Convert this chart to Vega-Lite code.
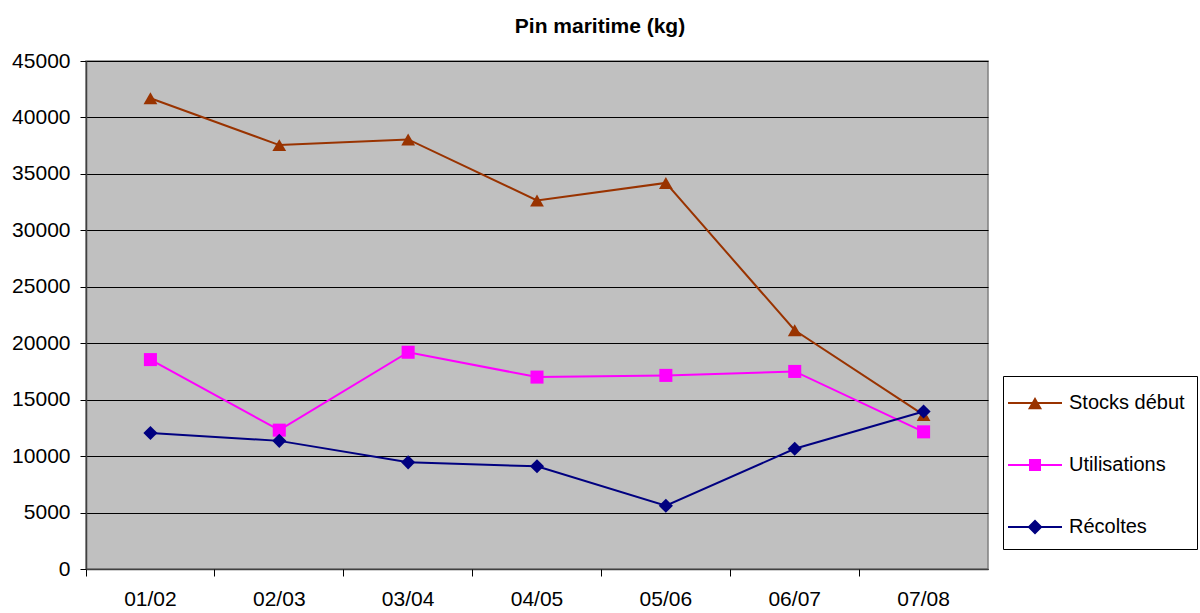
{
  "$schema": "https://vega.github.io/schema/vega-lite/v6.json",
  "autosize": "none",
  "padding": {"left": 86, "top": 61, "right": 212, "bottom": 44},
  "width": 902,
  "height": 508,
  "background": "white",
  "title": {"text": "Pin maritime  (kg)", "font": "Liberation Sans", "fontSize": 21, "fontWeight": "bold", "color": "black", "anchor": "middle", "dx": 63, "offset": 13},
  "config": {
    "view": {"fill": "#C0C0C0", "stroke": "#808080", "strokeWidth": 1.5},
    "axis": {"labelFont": "Liberation Sans", "labelFontSize": 21, "labelColor": "black", "tickColor": "black", "domainColor": "#404040", "domainWidth": 1.5, "titleFontSize": 0}
  },
  "data": {"values": [
    {"annee": "01/02", "serie": "Stocks début", "kg": 41700},
    {"annee": "02/03", "serie": "Stocks début", "kg": 37550},
    {"annee": "03/04", "serie": "Stocks début", "kg": 38050},
    {"annee": "04/05", "serie": "Stocks début", "kg": 32650},
    {"annee": "05/06", "serie": "Stocks début", "kg": 34200},
    {"annee": "06/07", "serie": "Stocks début", "kg": 21150},
    {"annee": "07/08", "serie": "Stocks début", "kg": 13650},
    {"annee": "01/02", "serie": "Utilisations", "kg": 18550},
    {"annee": "02/03", "serie": "Utilisations", "kg": 12300},
    {"annee": "03/04", "serie": "Utilisations", "kg": 19200},
    {"annee": "04/05", "serie": "Utilisations", "kg": 17000},
    {"annee": "05/06", "serie": "Utilisations", "kg": 17150},
    {"annee": "06/07", "serie": "Utilisations", "kg": 17500},
    {"annee": "07/08", "serie": "Utilisations", "kg": 12150},
    {"annee": "01/02", "serie": "Récoltes", "kg": 12050},
    {"annee": "02/03", "serie": "Récoltes", "kg": 11350},
    {"annee": "03/04", "serie": "Récoltes", "kg": 9450},
    {"annee": "04/05", "serie": "Récoltes", "kg": 9100},
    {"annee": "05/06", "serie": "Récoltes", "kg": 5600},
    {"annee": "06/07", "serie": "Récoltes", "kg": 10650},
    {"annee": "07/08", "serie": "Récoltes", "kg": 13950}
  ]},
  "resolve": {"axis": {"x": "independent"}},
  "layer": [
    {
      "mark": {"type": "line", "strokeWidth": 2},
      "encoding": {
        "x": {"field": "annee", "type": "ordinal", "scale": {"type": "band", "paddingInner": 0, "paddingOuter": 0},
              "axis": {"title": null, "orient": "bottom", "labelAngle": 0, "ticks": false, "domain": true, "labelPadding": 19}},
        "y": {"field": "kg", "type": "quantitative", "scale": {"domain": [0, 45000], "nice": false},
              "axis": {"title": null, "values": [0,5000,10000,15000,20000,25000,30000,35000,40000,45000], "format": "d", "tickSize": 6, "labelPadding": 10, "grid": true, "gridColor": "black", "gridWidth": 1.2, "gridOpacity": 1}},
        "color": {"field": "serie", "type": "nominal", "scale": {"domain": ["Stocks début", "Utilisations", "Récoltes"], "range": ["#993300", "#FF00FF", "#000080"]}, "legend": {
          "title": null, "orient": "none", "legendX": 917, "legendY": 315,
          "fillColor": "white", "strokeColor": "black", "padding": 12,
          "labelFont": "Liberation Sans", "labelFontSize": 20, "labelColor": "black", "labelOffset": 24,
          "symbolSize": 900, "rowPadding": 37, "labelLimit": 300,
          "encode": {"symbols": {"update": {
            "shape": {"signal": "datum.value == 'Stocks début' ? 'M-1.8,-0.067H1.8V0.067H-1.8ZM-0.47,0.42L0,-0.4L0.47,0.42Z' : datum.value == 'Utilisations' ? 'M-1.8,-0.067H1.8V0.067H-1.8ZM-0.4,-0.4H0.4V0.4H-0.4Z' : 'M-1.8,-0.067H1.8V0.067H-1.8ZM0,-0.5L0.5,0L0,0.5L-0.5,0Z'"},
            "x": {"value": 20},
            "fill": {"scale": "color", "field": "value"},
            "fillOpacity": {"value": 1},
            "strokeWidth": {"value": 0}
          }}}
        }},
        "detail": {"field": "serie"}
      }
    },
    {
      "transform": [{"filter": "datum.serie == 'Stocks début'"}],
      "mark": {"type": "point", "shape": "triangle-up", "filled": true, "color": "#993300", "opacity": 1, "size": 190, "strokeWidth": 0},
      "encoding": {
        "x": {"field": "annee", "type": "ordinal", "axis": {"title": null, "orient": "bottom", "labels": false, "domain": false, "ticks": true, "tickSize": 7, "bandPosition": 0}},
        "y": {"field": "kg", "type": "quantitative"}
      }
    },
    {
      "transform": [{"filter": "datum.serie == 'Utilisations'"}],
      "mark": {"type": "point", "shape": "square", "filled": true, "color": "#FF00FF", "opacity": 1, "size": 170, "strokeWidth": 0},
      "encoding": {
        "x": {"field": "annee", "type": "ordinal", "axis": null},
        "y": {"field": "kg", "type": "quantitative"}
      }
    },
    {
      "transform": [{"filter": "datum.serie == 'Récoltes'"}],
      "mark": {"type": "point", "shape": "diamond", "filled": true, "color": "#000080", "opacity": 1, "size": 200, "strokeWidth": 0},
      "encoding": {
        "x": {"field": "annee", "type": "ordinal", "axis": null},
        "y": {"field": "kg", "type": "quantitative"}
      }
    }
  ]
}
